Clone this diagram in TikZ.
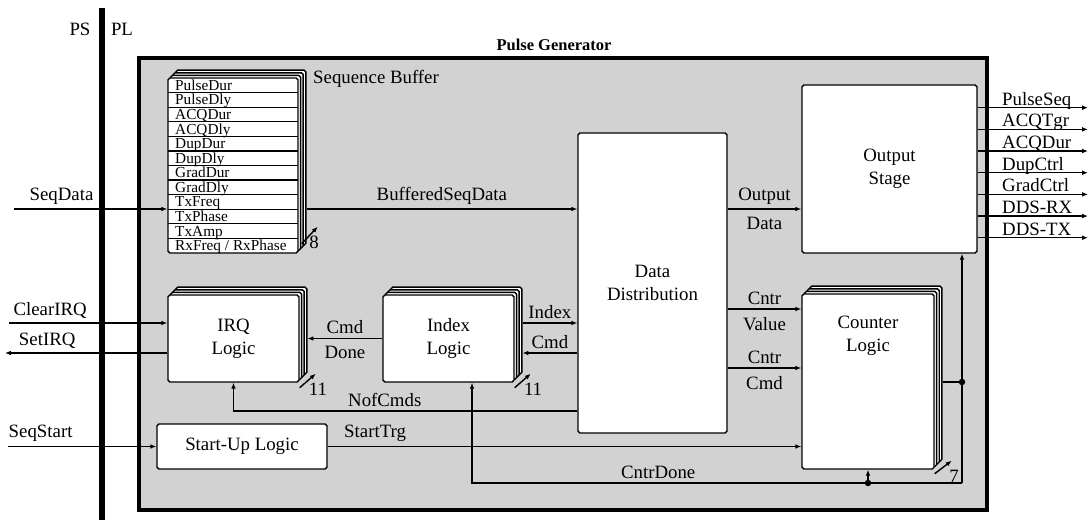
\documentclass[tikz,border=0pt]{standalone}
\usepackage{fontspec}
\setmainfont{Liberation Serif}
\usetikzlibrary{arrows.meta}

\def\px{0.85pt} % one unit of the picture
\def\off{2.6}   % shift of the copies behind a stacked block

\tikzset{
  block/.style={draw=bordercolor, fill=white, line width=1.2pt, rounded corners=1.5pt, align=center, inner sep=2pt},
  layer/.style={draw=bordercolor, fill=white, line width=1.2pt, rounded corners=1.5pt},
  sig/.style={line width=1.2pt, color=bordercolor, -{Latex[length=5pt,width=4pt]}},
  wire/.style={line width=1.2pt, color=bordercolor},
  rowline/.style={line width=1.1pt, color=bordercolor},
  entry/.style={anchor=base west, inner sep=0pt, font=\fontsize{13}{13}\selectfont},
  busno/.style={anchor=center, xshift=2pt, yshift=-13.6pt},
  lowlbl/.style={below, yshift=-3pt},
  dot/.style={circle, fill=bordercolor, inner sep=0pt, minimum size=5.5pt},
}

% block with three copies behind it
\newcommand\stackedblock[6]{%
  \foreach \k in {3,2,1}
    \draw[layer] (#2+\k*\off,#3-\k*\off) rectangle (#4+\k*\off,#5-\k*\off);
  \node[block, minimum width={(#4-#2)*\px}, minimum height={(#5-#3)*\px}] (#1) at ({(#2+#4)/2},{(#3+#5)/2}) {#6};
}

\begin{document}
\begin{tikzpicture}[x=0.85pt, y=-0.85pt, every node/.style={font=\fontsize{16}{19.5}\selectfont}]
  % Colors
  \colorlet{bordercolor}{black}
  \colorlet{areacolor}{gray!35}

  \def\rowh{14.58}

  \useasboundingbox (0,0) rectangle (1089,520);

  % PS / PL border
  \draw[line width=5pt, color=bordercolor] (102,8) -- (102,520);
  \node (ps) at (80,29) {PS};
  \node (pl) at (122,29) {PL};

  % Pulse generator
  \draw[line width=3pt, draw=bordercolor, fill=areacolor] (139,58) rectangle (987,510);
  \node[font=\fontsize{14}{16}\selectfont\bfseries] (title) at (554,45) {Pulse Generator};

  % sequence buffer
  \stackedblock{buf}{168}{78}{298}{253}{}
  \foreach \i in {1,...,11}
    \draw[rowline] (168,78+\i*\rowh) -- (298,78+\i*\rowh);
  \foreach \entry [count=\i] in {PulseDur, PulseDly, ACQDur, ACQDly, DupDur, DupDly, GradDur, GradDly, TxFreq, TxPhase, TxAmp, RxFreq / RxPhase}
    \node[entry] (e\i) at (175,78+\i*\rowh-2.3) {\entry};
  \node[anchor=base west, inner sep=0pt] (bufname) at (313,84) {Sequence Buffer};

  % blocks
  \stackedblock{irq}{168}{295}{299}{382}{IRQ\\Logic}
  \stackedblock{index}{383}{295}{514}{382}{Index\\Logic}
  \stackedblock{cnt}{802}{294}{934}{469}{}
  \node[align=center] (cntlbl) at (868,336) {Counter\\Logic};
  \node[block, minimum width=149*\px, minimum height=300*\px] (dd) at (652.5,283) {Data\\Distribution};
  \node[block, minimum width=175*\px, minimum height=168*\px] (ostage) at (889.5,169) {Output\\Stage};
  \node[block, minimum width=170*\px, minimum height=45*\px] (startup) at (242,446.5) {Start-Up Logic};

  % levels of the connectors
  \coordinate (seqin) at (14,209);
  \coordinate (clrin) at (9,323);
  \coordinate (setout) at (5,353);
  \coordinate (startin) at (8,446.5);
  \coordinate (ilvl) at (0,323);
  \coordinate (clvl) at (0,353);
  \coordinate (nlvl) at (0,411);
  \coordinate (cvlvl) at (0,309);
  \coordinate (cclvl) at (0,368);
  \coordinate (fb) at (962,382);
  \coordinate (fbc) at (962,483);
  \coordinate (idxin) at (472,0);

  % inputs from the PS
  \draw[sig] (seqin) -- node[above, pos=0.31] (seqdata) {SeqData} (buf.west |- seqin);
  \draw[sig] (clrin) -- node[above, pos=0.26] (clrirq) {ClearIRQ} (irq.west |- clrin);
  \draw[sig] (irq.west |- setout) -- node[above, pos=0.74] (setirq) {SetIRQ} (setout);
  \draw[sig] (startin) -- node[above, pos=0.22] (seqstart) {SeqStart} (startup.west);

  % inside
  \draw[sig] ([xshift=3*\off*\px]buf.east |- seqin) -- node[above] (bsd) {BufferedSeqData} (dd.west |- seqin);
  \draw[sig] (index.west) -- node[above] {Cmd} node[lowlbl] {Done} ([xshift=3*\off*\px]irq.east |- index.west);
  \draw[sig] ([xshift=3*\off*\px]index.east |- ilvl) -- node[above] {Index} (dd.west |- ilvl);
  \draw[sig] (dd.west |- clvl) -- node[above] {Cmd} ([xshift=3*\off*\px]index.east |- clvl);
  \draw[sig] (dd.west |- nlvl) -- node[above, pos=0.56] {NofCmds} (irq.south |- nlvl) -- (irq.south);
  \draw[sig] (dd.east |- seqin) -- node[above] {Output} node[lowlbl] {Data} (ostage.west |- seqin);
  \draw[sig] (dd.east |- cvlvl) -- node[above] {Cntr} node[lowlbl] {Value} (cnt.west |- cvlvl);
  \draw[sig] (dd.east |- cclvl) -- node[above] {Cntr} node[lowlbl] {Cmd} (cnt.west |- cclvl);
  \draw[sig] (startup.east) -- node[above, pos=0.1] {StartTrg} (cnt.west |- startup.east);

  % counter feedback
  \draw[wire] ([xshift=3*\off*\px]cnt.east |- fb) -- (fb);
  \draw[sig] (fbc) -- (fb |- ostage.south);
  \draw[sig] (fbc) -- node[above, pos=0.62] {CntrDone} (idxin |- fbc) -- (idxin |- index.south);
  \draw[sig] (cnt.south |- fbc) -- (cnt.south);
  \node[dot] (fbdot) at (fb) {};
  \node[dot] (cddot) at (cnt.south |- fbc) {};

  % bus widths
  \draw[sig] ([shift={(3,-10)}]buf.south east) -- ++(16,-17) node[busno, xshift=-5pt] (bus8) {8};
  \draw[sig] ([yshift=-5*\px]irq.south east) -- ++(16,-14) node[busno] (bus11a) {11};
  \draw[sig] ([yshift=-5*\px]index.south east) -- ++(16,-14) node[busno] (bus11b) {11};
  \draw[sig] ([yshift=-4*\px]cnt.south east) -- ++(17,-13) node[busno] (bus7) {7};

  % outputs
  \foreach \outname [count=\i] in {PulseSeq, ACQTgr, ACQDur, DupCtrl, GradCtrl, DDS-RX, DDS-TX}
  {
    \pgfmathsetmacro\yo{107.7+(\i-1)*21.67}
    \coordinate (out\i) at (1088,\yo);
    \draw[sig] (ostage.east |- out\i) -- (out\i);
    \node[anchor=base west, inner sep=0pt] (o\i) at (1002,\yo-2.5) {\outname};
  }
\end{tikzpicture}
\end{document}
